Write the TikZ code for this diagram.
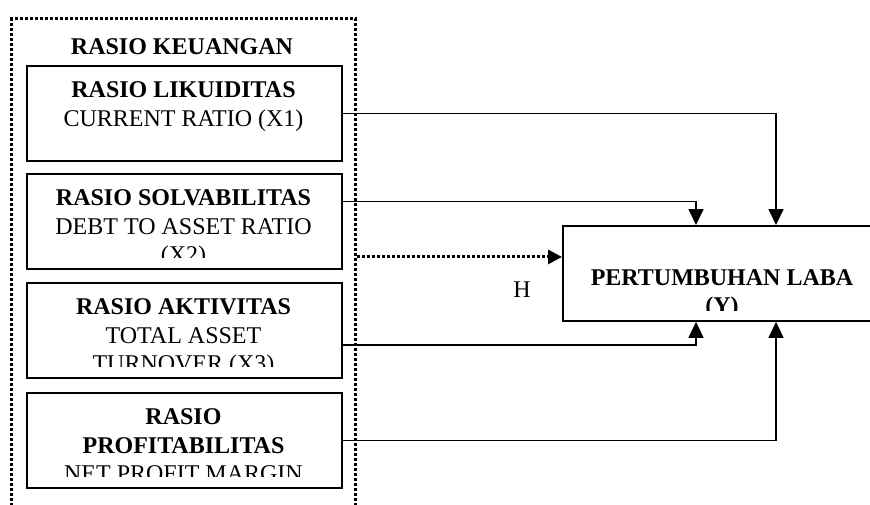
\documentclass[tikz,border=0pt]{standalone}
\usepackage{fontspec}
\setmainfont{Liberation Serif}
\usetikzlibrary{arrows.meta}
\tikzset{
	ratiobox/.style={draw, line width=1.9pt, anchor=north west, minimum width=315pt, minimum height=95pt, inner sep=0pt},
	ratiotext/.style={anchor=north, align=center, inner sep=0pt, font=\fontsize{24}{28.5}\selectfont},
	groupbox/.style={draw, line width=3pt, dash pattern=on 3pt off 2pt, anchor=north west, minimum width=344pt, minimum height=503pt, inner sep=0pt},
	link/.style={line width=1.7pt, -{Triangle[length=16pt,width=15pt]}},
	dotlink/.style={line width=3pt, dash pattern=on 3pt off 2pt, -{Triangle[length=14pt,width=14pt]}}
}
\begin{document}
\begin{tikzpicture}[x=1pt, y=-1pt]
	\useasboundingbox (0,0) rectangle (870,504);
	% group of ratios
	\node[groupbox] (keuangan) at (10,17) {};
	\node[ratiotext] (title) at (182,38.3) {\textbf{RASIO KEUANGAN}};
	
	% ratio boxes, text clipped like the text boxes
	\foreach \name/\top/\txt in {
		likuid/65/{\textbf{RASIO LIKUIDITAS}\\CURRENT RATIO (X1)},
		solva/173/{\textbf{RASIO SOLVABILITAS}\\DEBT TO ASSET RATIO\\(X2)},
		aktiv/282/{\textbf{RASIO AKTIVITAS}\\TOTAL ASSET\\TURNOVER (X3)},
		profit/392/{\textbf{RASIO}\\\textbf{PROFITABILITAS}\\NET PROFIT MARGIN}}
	{
		\node[ratiobox] (\name) at (26,\top) {};
		\begin{scope}
			\clip (26,\top) rectangle (341,\top+84);
			\node[ratiotext] (\name text) at (183.5,\top+16.8) {\txt};
		\end{scope}
	}
	
	% dependent variable
	\node[ratiobox, minimum width=320pt] (laba) at (562,225) {};
	\begin{scope}
		\clip (562,225) rectangle (882,310);
		\node[ratiotext] (labatext) at (722,269.3) {\textbf{PERTUMBUHAN LABA}\\\textbf{(Y)}};
	\end{scope}
	\node[ratiotext, anchor=center] (hlabel) at (522,290) {H};
	
	% partial effects
	\draw[link] (likuid.east) -| ([xshift=214pt]laba.north west);
	\draw[link] ([yshift=20pt]solva.east) -| ([xshift=134pt]laba.north west);
	\draw[link] ([yshift=-14.5pt]aktiv.east) -| ([xshift=134pt]laba.south west);
	\draw[link] (profit.east) -| ([xshift=214pt]laba.south west);
	% simultaneous effect
	\draw[dotlink] ([yshift=16.5pt]laba.west -| keuangan.east) -- ([yshift=16.5pt]laba.west);
\end{tikzpicture}
\end{document}
